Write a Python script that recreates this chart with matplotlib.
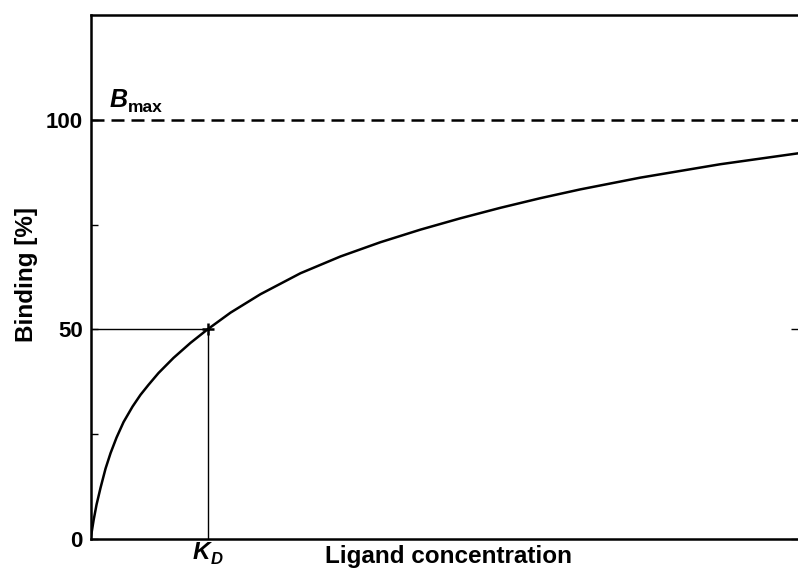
import matplotlib
matplotlib.use("Agg")
import matplotlib.pyplot as plt

plt.rcParams['font.family'] = ['Liberation Sans', 'DejaVu Sans']
plt.rcParams['font.weight'] = 'bold'

# ligand concentration in units of K_D, binding in % of B_max
conc = [0, 0.026, 0.051, 0.085, 0.128, 0.171, 0.222, 0.282, 0.359, 0.427,
        0.496, 0.581, 0.709, 0.855, 1.0, 1.197, 1.453, 1.795, 2.137, 2.479,
        2.821, 3.162, 3.504, 3.846, 4.188, 4.701, 5.385, 6.05]
binding = [0, 4.5, 8.2, 12.2, 16.8, 20.5, 24.2, 27.9, 31.6, 34.4,
           36.8, 39.6, 43.2, 46.8, 50.0, 54.0, 58.4, 63.4, 67.4, 70.8,
           73.8, 76.5, 79.0, 81.3, 83.4, 86.2, 89.4, 92.0]
kd = 1.0
half_binding = 50
bmax = 100
yticks_major = [0, 50, 100]
yticks_minor = [25, 75]

fig = plt.figure(figsize=(7.98, 5.68), dpi=100)
ax = fig.add_axes([0.1135, 0.051, 0.8865, 0.9226])

ax.plot(conc, binding, color='black', lw=1.8, solid_joinstyle='round')
ax.axhline(bmax, color='black', lw=1.8, linestyle=(0, (5.2, 2.8)))
# half-saturation guides
ax.plot([0, kd], [half_binding, half_binding], color='black', lw=1.0)
ax.plot([kd, kd], [0, half_binding], color='black', lw=1.0)
ax.plot([kd], [half_binding], marker='+', color='black', ms=9, mew=1.8)

ax.set_xlim(0, conc[-1])
ax.set_ylim(0, 125)
ax.set_xticks([])
ax.set_yticks(yticks_major)
ax.set_yticks(yticks_minor, minor=True)
ax.tick_params(axis='y', which='major', direction='in', length=5, width=1,
               labelsize=16, pad=5.5, right=True)
ax.tick_params(axis='y', which='minor', direction='in', length=5, width=1,
               right=False)

for side in ['left', 'bottom', 'top']:
    ax.spines[side].set_linewidth(1.8)
ax.spines['right'].set_visible(False)

ax.set_ylabel('Binding [%]', fontsize=17.5, fontweight='bold')
ax.yaxis.set_label_coords(-0.075, 0.504)
ax.set_xlabel('Ligand concentration', fontsize=17.5, fontweight='bold')
ax.xaxis.set_label_coords(0.5066, -0.011)

ax.text(0.166, 103.0, 'B', fontsize=18, fontweight='bold', style='italic',
        ha='left', va='baseline')
ax.text(0.32, 101.8, 'max', fontsize=12.5, fontweight='bold',
        ha='left', va='baseline')
ax.text(0.875, -4.8, 'K', fontsize=17.5, fontweight='bold', style='italic',
        ha='left', va='baseline', clip_on=False)
ax.text(1.03, -5.9, 'D', fontsize=12, fontweight='bold', style='italic',
        ha='left', va='baseline', clip_on=False)

fig.savefig('out.png', dpi=100)
